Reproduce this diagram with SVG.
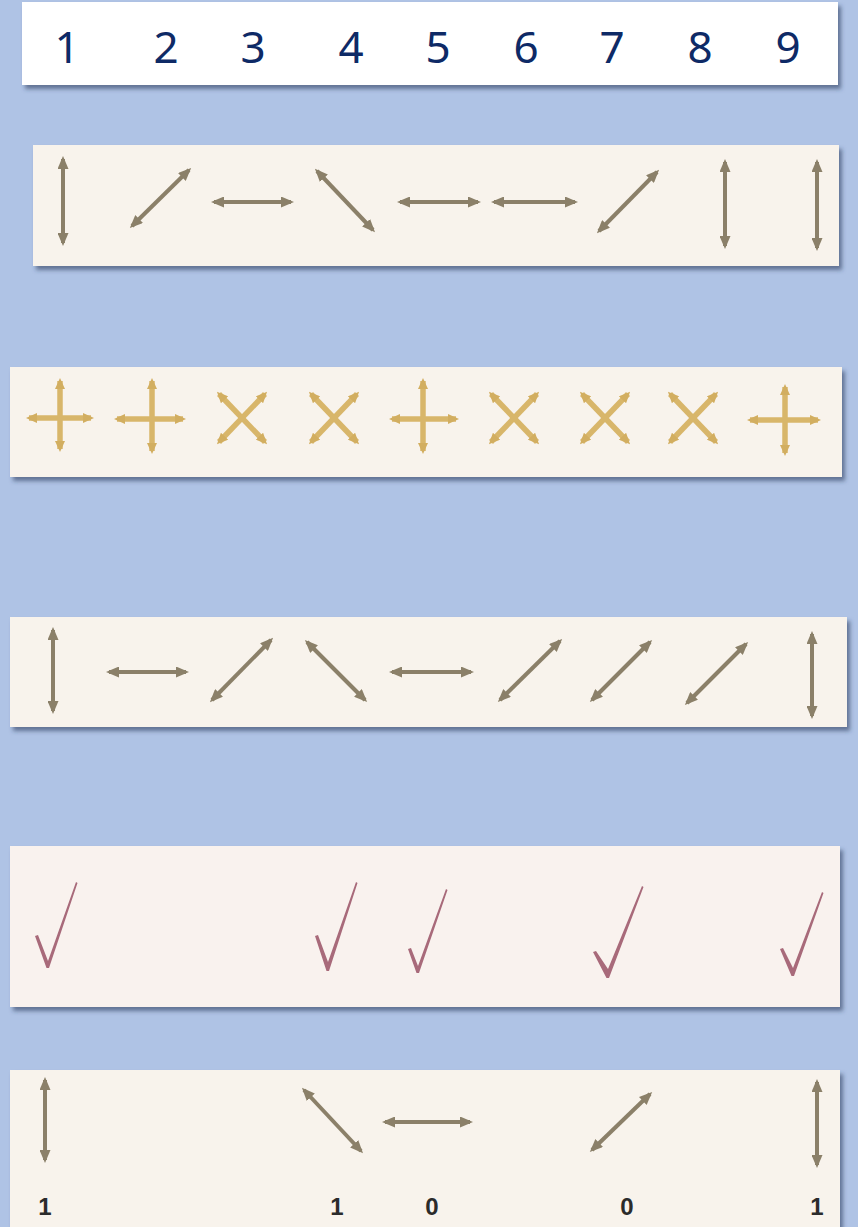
<svg xmlns="http://www.w3.org/2000/svg" width="858" height="1227" viewBox="0 0 858 1227">
<defs>
<style>
.hdr{font-family:"Noto Sans","Liberation Sans",sans-serif;font-size:44px;fill:#0E2A66;text-anchor:middle}
.lbl{font-family:"Liberation Sans",Arial,sans-serif;font-size:24px;font-weight:bold;fill:#2b2b2b;text-anchor:middle}
.strip{fill:#F8F3EC;filter:url(#sh)}
.ar{stroke:#8B8069;stroke-width:4;fill:none;marker-start:url(#ah);marker-end:url(#ah)}
.cr{stroke:#D8B66A;stroke-width:5.5;fill:none;marker-start:url(#ahg);marker-end:url(#ahg)}
.ck{fill:#A86A7A}
</style>
<filter id="sh" x="-5%" y="-20%" width="110%" height="150%">
<feDropShadow dx="3" dy="4" stdDeviation="2" flood-color="#2E3E5E" flood-opacity="0.6"/>
</filter>
<marker id="ah" markerUnits="userSpaceOnUse" viewBox="0 0 13 11" markerWidth="13" markerHeight="11" refX="10" refY="5.5" orient="auto-start-reverse">
<path d="M0,0 L13,5.5 L0,11 z" fill="#8B8069"/>
</marker>
<marker id="ahg" markerUnits="userSpaceOnUse" viewBox="0 0 11 10" markerWidth="11" markerHeight="10" refX="8" refY="5" orient="auto-start-reverse">
<path d="M0,0 L11,5 L0,10 z" fill="#D2AE60"/>
</marker>
</defs>
<rect width="858" height="1227" fill="#AFC3E5"/>

<g id="header">
<rect x="22" y="2" width="816" height="83" fill="#FFFFFF" filter="url(#sh)"/>
<text class="hdr" x="67" y="63">1</text>
<text class="hdr" x="166" y="63">2</text>
<text class="hdr" x="253" y="63">3</text>
<text class="hdr" x="351" y="63">4</text>
<text class="hdr" x="438" y="63">5</text>
<text class="hdr" x="526" y="63">6</text>
<text class="hdr" x="612" y="63">7</text>
<text class="hdr" x="700" y="63">8</text>
<text class="hdr" x="788" y="63">9</text>
</g>

<g id="row1">
<rect class="strip" x="33" y="145" width="806" height="121"/>
<line class="ar" x1="63" y1="159" x2="63" y2="243"/>
<line class="ar" x1="132" y1="226" x2="189" y2="170"/>
<line class="ar" x1="214" y1="202" x2="291" y2="202"/>
<line class="ar" x1="317" y1="171" x2="373" y2="230"/>
<line class="ar" x1="400" y1="202" x2="478" y2="202"/>
<line class="ar" x1="494" y1="202" x2="575" y2="202"/>
<line class="ar" x1="599" y1="231" x2="657" y2="172"/>
<line class="ar" x1="725" y1="162" x2="725" y2="246"/>
<line class="ar" x1="817" y1="162" x2="817" y2="248"/>
</g>

<g id="row2">
<rect class="strip" x="10" y="367" width="832" height="110"/>
<g id="c1"><line class="cr" x1="29" y1="418" x2="91" y2="418"/><line class="cr" x1="60" y1="381" x2="60" y2="449"/></g>
<g id="c2"><line class="cr" x1="117" y1="419" x2="183" y2="419"/><line class="cr" x1="152" y1="381" x2="152" y2="451"/></g>
<g id="c3"><line class="cr" x1="219" y1="394" x2="265" y2="442"/><line class="cr" x1="265" y1="394" x2="219" y2="442"/></g>
<g id="c4"><line class="cr" x1="311" y1="394" x2="357" y2="442"/><line class="cr" x1="357" y1="394" x2="311" y2="442"/></g>
<g id="c5"><line class="cr" x1="392" y1="419" x2="456" y2="419"/><line class="cr" x1="423" y1="381" x2="423" y2="451"/></g>
<g id="c6"><line class="cr" x1="491" y1="394" x2="537" y2="442"/><line class="cr" x1="537" y1="394" x2="491" y2="442"/></g>
<g id="c7"><line class="cr" x1="582" y1="394" x2="628" y2="442"/><line class="cr" x1="628" y1="394" x2="582" y2="442"/></g>
<g id="c8"><line class="cr" x1="670" y1="394" x2="716" y2="442"/><line class="cr" x1="716" y1="394" x2="670" y2="442"/></g>
<g id="c9"><line class="cr" x1="750" y1="420" x2="818" y2="420"/><line class="cr" x1="785" y1="387" x2="785" y2="453"/></g>
</g>

<g id="row3">
<rect class="strip" x="10" y="617" width="837" height="110"/>
<line class="ar" x1="53" y1="630" x2="53" y2="711"/>
<line class="ar" x1="109" y1="672" x2="186" y2="672"/>
<line class="ar" x1="212" y1="700" x2="271" y2="640"/>
<line class="ar" x1="307" y1="642" x2="365" y2="700"/>
<line class="ar" x1="392" y1="672" x2="471" y2="672"/>
<line class="ar" x1="500" y1="700" x2="560" y2="641"/>
<line class="ar" x1="592" y1="700" x2="650" y2="642"/>
<line class="ar" x1="687" y1="703" x2="746" y2="644"/>
<line class="ar" x1="812" y1="634" x2="812" y2="716"/>
</g>

<g id="row4">
<rect class="strip" x="10" y="846" width="830" height="161" style="fill:#F9F2EE"/>
<path class="ck" d="M35,936 L38,935 L48,961 L76,882 L77.5,883 L49,968 L46.5,968 z"/>
<path class="ck" d="M315,936 L318,935 L328,962 L356,882 L357.5,883 L329,971 L326.5,971 z"/>
<path class="ck" d="M408,949 L411,948 L418,966 L446,889 L447.5,890 L419,973 L416.5,973 z"/>
<path class="ck" d="M593,952 L596,951 L608,969 L642,886 L643.5,887 L609,978 L606.5,978 z"/>
<path class="ck" d="M780,949 L783,948 L793,968 L822,892 L823.5,893 L794,976 L791.5,976 z"/>
</g>

<g id="row5">
<rect class="strip" x="10" y="1070" width="830" height="165"/>
<line class="ar" x1="45" y1="1080" x2="45" y2="1160"/>
<line class="ar" x1="304" y1="1090" x2="361" y2="1151"/>
<line class="ar" x1="385" y1="1122" x2="470" y2="1122"/>
<line class="ar" x1="592" y1="1150" x2="650" y2="1094"/>
<line class="ar" x1="817" y1="1082" x2="817" y2="1165"/>
<text class="lbl" x="45" y="1215">1</text>
<text class="lbl" x="337" y="1215">1</text>
<text class="lbl" x="432" y="1215">0</text>
<text class="lbl" x="627" y="1215">0</text>
<text class="lbl" x="817" y="1215">1</text>
</g>
</svg>
